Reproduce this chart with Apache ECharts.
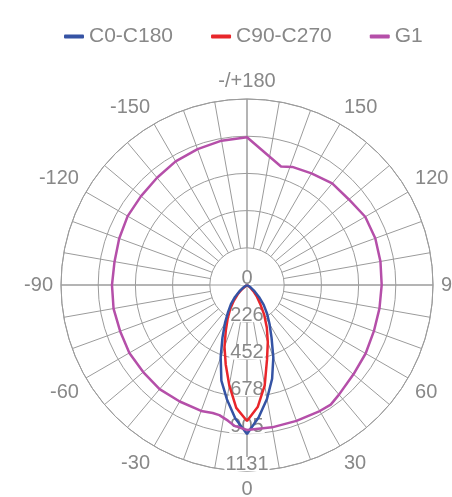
<!DOCTYPE html>
<html>
<head>
<meta charset="utf-8">
<script src="https://cdn.jsdelivr.net/npm/echarts@6/dist/echarts.min.js"></script>
<style>
html,body{margin:0;padding:0;background:#fff;}
#chart{width:452px;height:497px;}
</style>
</head>
<body>
<div id="chart"></div>
<script>
// ---- data ----
const seriesNames = ['C0-C180', 'C90-C270', 'G1'];
const cAngles = [-70,-65,-60,-55,-50,-45,-40,-35,-30,-25,-20,-15,-10,-5,0,5,10,15,20,25,30,35,40,45,50,55,60,65,70];
const c0c180 = [0,0,12,30,61,103,152,201,268,353,468,602,705,815,906,809,702,590,468,353,274,213,158,103,61,30,12,0,0];
const c90c270 = [0,0,0,12,40,80,125,178,235,305,400,500,620,750,827,745,620,470,370,285,210,140,95,60,30,10,0,0,0];
const g1Angles = [0,10,20,30,35,40,50,60,70,80,90,100,110,120,130,140,150,159,164,180,-170,-160,-150,-140,-130,-120,-110,-100,-90,-80,-70,-60,-50,-40,-30,-20,-15,-12,-8,-5,0];
const g1Values = [882,879,879,885,888,870,845,833,821,818,819,824,830,830,809,806,784,769,750,898,891,879,868,851,841,838,827,818,821,824,821,826,824,827,818,815,806,809,833,860,882];
const radiusTickLabels = ['0', '226', '452', '678', '905', '1131'];
const radiusMax = 1131;
const radiusStep = 226.2;
const angleTickLabels = {0:'0',30:'30',60:'60',90:'90',120:'120',150:'150',180:'-/+180',210:'-150',240:'-120',270:'-90',300:'-60',330:'-30',360:''};

// ---- chart ----
const FONT = '"Liberation Sans", Arial, Helvetica, sans-serif';
const gridColor = '#9b9b9b';
const textColor = '#888888';
const C = [247, 285];
const R = 186;
const toPair = (angles, vals) => angles.map((a, i) => [vals[i], ((a % 360) + 360) % 360]);

const chart = echarts.init(document.getElementById('chart'));
chart.setOption({
  animation: false,
  color: ['#3553a4', '#e8262b', '#b54fa9'],
  legend: {
    top: 21, left: 59,
    data: seriesNames,
    icon: 'roundRect', itemWidth: 20, itemHeight: 4, itemGap: 38,
    textStyle: { fontSize: 21, color: textColor, fontFamily: FONT }
  },
  polar: [
    { center: C, radius: [R * 0.2, R] },
    { center: C, radius: [0, R] },
    { center: C, radius: [0, R] }
  ],
  angleAxis: [
    { polarIndex: 0, type: 'value', min: 0, max: 360, interval: 10, startAngle: 270, clockwise: false,
      axisLine: { show: false }, axisTick: { show: false }, axisLabel: { show: false },
      splitLine: { show: true, lineStyle: { color: gridColor, width: 1 } } },
    { polarIndex: 1, type: 'value', min: 0, max: 360, interval: 30, startAngle: 270, clockwise: false,
      axisLine: { show: true, lineStyle: { color: gridColor, width: 1 } }, axisTick: { show: false },
      splitLine: { show: false },
      axisLabel: { show: true, margin: 8, fontSize: 20, color: textColor, fontFamily: FONT,
        formatter: v => (angleTickLabels[v] !== undefined ? angleTickLabels[v] : String(v)) } },
    { polarIndex: 2, type: 'value', min: 0, max: 360, interval: 90, startAngle: 270, clockwise: false,
      axisLine: { show: false }, axisTick: { show: false }, axisLabel: { show: false },
      splitLine: { show: true, lineStyle: { color: gridColor, width: 1 } } }
  ],
  radiusAxis: [
    { polarIndex: 0, type: 'value', min: 0, max: 1, show: false },
    { polarIndex: 1, type: 'value', min: 0, max: radiusMax, interval: radiusStep, z: 1,
      axisLine: { show: false }, axisTick: { show: false },
      splitLine: { show: true, lineStyle: { color: gridColor, width: 1 } },
      axisLabel: { show: true, margin: 0, align: 'center', verticalAlign: 'bottom',
        fontSize: 20, lineHeight: 14, color: textColor, fontFamily: FONT,
        backgroundColor: '#fff', padding: [0, 1, 0, 1],
        formatter: v => radiusTickLabels[Math.round(v / radiusStep)] } },
    { polarIndex: 2, type: 'value', min: 0, max: 1, show: false }
  ],
  series: [
    { name: seriesNames[0], type: 'line', coordinateSystem: 'polar', polarIndex: 1, z: 3,
      symbol: 'none', lineStyle: { width: 2.5 }, data: toPair(cAngles, c0c180) },
    { name: seriesNames[1], type: 'line', coordinateSystem: 'polar', polarIndex: 1, z: 2,
      symbol: 'none', lineStyle: { width: 2.5 }, data: toPair(cAngles, c90c270) },
    { name: seriesNames[2], type: 'line', coordinateSystem: 'polar', polarIndex: 1, z: 4,
      symbol: 'none', lineStyle: { width: 2.5 }, data: toPair(g1Angles, g1Values) }
  ]
});
</script>
</body>
</html>
